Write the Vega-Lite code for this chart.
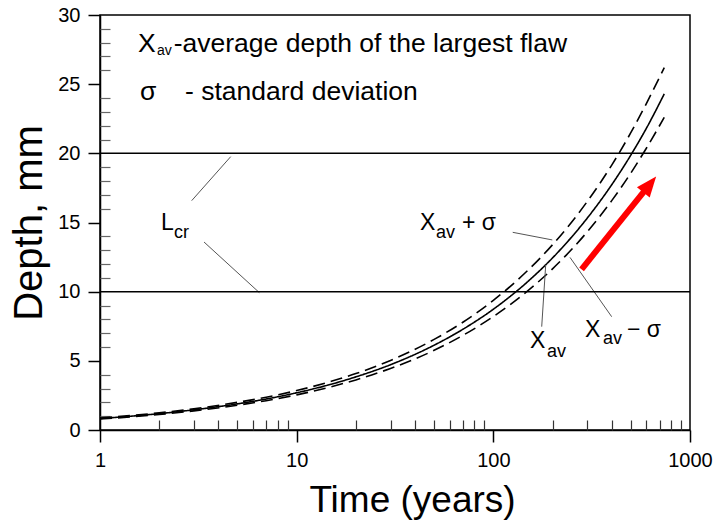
{
  "$schema": "https://vega.github.io/schema/vega-lite/v6.json",
  "width": 590,
  "height": 415,
  "autosize": {"type": "none"},
  "padding": {"left": 100, "top": 15, "right": 23, "bottom": 96},
  "background": "white",
  "config": {
    "view": {"stroke": "black", "strokeWidth": 1.5},
    "font": "Liberation Sans",
    "text": {"font": "Liberation Sans", "color": "black"}
  },
  "datasets": {
    "curves": [
      {"t": 1, "y": 0.87, "s": "upper"}, {"t": 1.5, "y": 1.07, "s": "upper"}, {"t": 2, "y": 1.24, "s": "upper"},
      {"t": 3, "y": 1.53, "s": "upper"}, {"t": 5, "y": 2.0, "s": "upper"}, {"t": 7, "y": 2.37, "s": "upper"},
      {"t": 10, "y": 2.85, "s": "upper"}, {"t": 15, "y": 3.52, "s": "upper"}, {"t": 20, "y": 4.08, "s": "upper"},
      {"t": 30, "y": 5.03, "s": "upper"}, {"t": 50, "y": 6.55, "s": "upper"}, {"t": 70, "y": 7.79, "s": "upper"},
      {"t": 100, "y": 9.37, "s": "upper"}, {"t": 150, "y": 11.55, "s": "upper"}, {"t": 200, "y": 13.39, "s": "upper"},
      {"t": 300, "y": 16.51, "s": "upper"}, {"t": 400, "y": 19.15, "s": "upper"}, {"t": 500, "y": 21.49, "s": "upper"},
      {"t": 600, "y": 23.6, "s": "upper"}, {"t": 740, "y": 26.2, "s": "upper"},
      {"t": 1, "y": 0.83, "s": "mean"}, {"t": 1.5, "y": 1.02, "s": "mean"}, {"t": 2, "y": 1.18, "s": "mean"},
      {"t": 3, "y": 1.46, "s": "mean"}, {"t": 5, "y": 1.89, "s": "mean"}, {"t": 7, "y": 2.24, "s": "mean"},
      {"t": 10, "y": 2.69, "s": "mean"}, {"t": 15, "y": 3.31, "s": "mean"}, {"t": 20, "y": 3.84, "s": "mean"},
      {"t": 30, "y": 4.72, "s": "mean"}, {"t": 50, "y": 6.13, "s": "mean"}, {"t": 70, "y": 7.28, "s": "mean"},
      {"t": 100, "y": 8.73, "s": "mean"}, {"t": 150, "y": 10.74, "s": "mean"}, {"t": 200, "y": 12.44, "s": "mean"},
      {"t": 300, "y": 15.31, "s": "mean"}, {"t": 400, "y": 17.73, "s": "mean"}, {"t": 500, "y": 19.87, "s": "mean"},
      {"t": 600, "y": 21.81, "s": "mean"}, {"t": 740, "y": 24.3, "s": "mean"},
      {"t": 1, "y": 0.79, "s": "lower"}, {"t": 1.5, "y": 0.97, "s": "lower"}, {"t": 2, "y": 1.12, "s": "lower"},
      {"t": 3, "y": 1.38, "s": "lower"}, {"t": 5, "y": 1.79, "s": "lower"}, {"t": 7, "y": 2.12, "s": "lower"},
      {"t": 10, "y": 2.54, "s": "lower"}, {"t": 15, "y": 3.13, "s": "lower"}, {"t": 20, "y": 3.62, "s": "lower"},
      {"t": 30, "y": 4.45, "s": "lower"}, {"t": 50, "y": 5.76, "s": "lower"}, {"t": 70, "y": 6.84, "s": "lower"},
      {"t": 100, "y": 8.2, "s": "lower"}, {"t": 150, "y": 10.07, "s": "lower"}, {"t": 200, "y": 11.65, "s": "lower"},
      {"t": 300, "y": 14.32, "s": "lower"}, {"t": 400, "y": 16.58, "s": "lower"}, {"t": 500, "y": 18.57, "s": "lower"},
      {"t": 600, "y": 20.37, "s": "lower"}, {"t": 740, "y": 22.6, "s": "lower"}
    ],
    "hlines": [{"y": 10}, {"y": 20}],
    "leaders": [
      {"t": 2.926, "y": 16.58, "t2": 4.62, "y2": 19.76},
      {"t": 3.38, "y": 13.59, "t2": 6.46, "y2": 9.93},
      {"t": 125.5, "y": 14.29, "t2": 199.4, "y2": 13.74},
      {"t": 176.2, "y": 7.47, "t2": 184.6, "y2": 11.93},
      {"t": 399.7, "y": 8.19, "t2": 245.3, "y2": 12.48}
    ],
    "arrow": [{"t": 281, "y": 11.62, "t2": 624, "y2": 17.75}],
    "labels": [
      {"t": 1.561, "y": 27.35, "text": "X", "kind": "big"},
      {"t": 2.37, "y": 27.35, "text": "-average depth of the largest flaw", "kind": "big"},
      {"t": 1.597, "y": 23.86, "text": "σ", "kind": "big"},
      {"t": 2.705, "y": 23.86, "text": "- standard deviation", "kind": "big"},
      {"t": 2.043, "y": 14.46, "text": "L", "kind": "main"},
      {"t": 42.4, "y": 14.46, "text": "X", "kind": "main"},
      {"t": 69.3, "y": 14.46, "text": "+ σ", "kind": "main"},
      {"t": 153.6, "y": 5.93, "text": "X", "kind": "main"},
      {"t": 292.5, "y": 6.72, "text": "X", "kind": "main"},
      {"t": 478, "y": 6.72, "text": "− σ", "kind": "main"},
      {"t": 2.378, "y": 13.88, "text": "cr", "kind": "sub"},
      {"t": 51.1, "y": 13.88, "text": "av", "kind": "sub"},
      {"t": 187.5, "y": 5.28, "text": "av", "kind": "sub"},
      {"t": 361, "y": 6.22, "text": "av", "kind": "sub"},
      {"t": 1.949, "y": 27.1, "text": "av", "kind": "subsmall"}
    ]
  },
  "resolve": {"axis": {"x": "independent", "y": "independent"}},
  "layer": [
    {
      "data": {"name": "curves"},
      "mark": {"type": "line", "interpolate": "monotone", "color": "black", "strokeWidth": 1.6},
      "encoding": {
        "x": {"field": "t", "type": "quantitative",
          "scale": {"type": "log", "domain": [1, 1000], "nice": false},
          "axis": {"orient": "bottom", "values": [1, 10, 100, 1000], "format": "d", "grid": false,
            "tickSize": 12, "tickWidth": 1.5, "tickColor": "black", "domainColor": "black", "domainWidth": 1.5,
            "labelFont": "Liberation Sans", "labelFontSize": 20, "labelColor": "black", "labelPadding": 8,
            "labelFlush": false, "labelOverlap": false,
            "title": "Time (years)", "titleFont": "Liberation Sans", "titleFontSize": 37, "titleFontWeight": "normal",
            "titleColor": "black", "titlePadding": 12, "titleX": 312}},
        "y": {"field": "y", "type": "quantitative",
          "scale": {"domain": [0, 30], "nice": false, "zero": false},
          "axis": {"orient": "left", "values": [0, 5, 10, 15, 20, 25, 30], "grid": false,
            "tickSize": 12, "tickWidth": 1.5, "tickColor": "black", "domainColor": "black", "domainWidth": 1.5,
            "labelFont": "Liberation Sans", "labelFontSize": 20, "labelColor": "black", "labelPadding": 8,
            "labelFlush": false,
            "title": "Depth, mm", "titleFont": "Liberation Sans", "titleFontSize": 40, "titleFontWeight": "normal",
            "titleColor": "black", "titlePadding": 8}},
        "detail": {"field": "s"},
        "strokeDash": {"field": "s", "type": "nominal",
          "scale": {"domain": ["upper", "mean", "lower"], "range": [[12, 6], [1, 0], [12, 6]]},
          "legend": null}
      }
    },
    {
      "data": {"name": "leaders"},
      "mark": {"type": "rule", "color": "#555555", "strokeWidth": 1},
      "encoding": {
        "x": {"field": "t", "type": "quantitative",
          "axis": {"orient": "bottom", "values": [2, 3, 4, 5, 6, 7, 8, 9, 20, 30, 40, 50, 60, 70, 80, 90, 200, 300, 400, 500, 600, 700, 800, 900],
            "tickSize": -10, "tickWidth": 1.2, "tickColor": "#333333", "labels": false, "domain": false, "grid": false, "title": null}},
        "y": {"field": "y", "type": "quantitative",
          "axis": {"orient": "left", "values": [1, 2, 3, 4, 6, 7, 8, 9, 11, 12, 13, 14, 16, 17, 18, 19, 21, 22, 23, 24, 26, 27, 28, 29],
            "tickSize": -10, "tickWidth": 1.2, "tickColor": "#666666", "labels": false, "domain": false, "grid": false, "title": null}},
        "x2": {"field": "t2"},
        "y2": {"field": "y2"}
      }
    },
    {
      "data": {"name": "hlines"},
      "mark": {"type": "rule", "color": "black", "strokeWidth": 1.5},
      "encoding": {
        "y": {"field": "y", "type": "quantitative", "axis": null}
      }
    },
    {
      "data": {"name": "arrow"},
      "mark": {"type": "rule", "color": "#ff0000", "strokeWidth": 6, "strokeCap": "butt"},
      "encoding": {
        "x": {"field": "t", "type": "quantitative", "axis": null},
        "y": {"field": "y", "type": "quantitative", "axis": null},
        "x2": {"field": "t2"},
        "y2": {"field": "y2"}
      }
    },
    {
      "data": {"name": "arrow"},
      "mark": {"type": "point", "shape": "M0,-1L0.8,1L-0.8,1Z", "size": 420, "angle": 38.7, "filled": true, "color": "#ff0000", "opacity": 1, "strokeWidth": 0},
      "encoding": {
        "x": {"field": "t2", "type": "quantitative", "axis": null},
        "y": {"field": "y2", "type": "quantitative", "axis": null}
      }
    },
    {
      "data": {"name": "labels"},
      "transform": [{"filter": "datum.kind === 'big'"}],
      "mark": {"type": "text", "align": "left", "baseline": "alphabetic", "fontSize": 26.5, "font": "Liberation Sans", "color": "black"},
      "encoding": {
        "x": {"field": "t", "type": "quantitative", "axis": null},
        "y": {"field": "y", "type": "quantitative", "axis": null},
        "text": {"field": "text"}
      }
    },
    {
      "data": {"name": "labels"},
      "transform": [{"filter": "datum.kind === 'main'"}],
      "mark": {"type": "text", "align": "left", "baseline": "alphabetic", "fontSize": 23, "font": "Liberation Sans", "color": "black"},
      "encoding": {
        "x": {"field": "t", "type": "quantitative", "axis": null},
        "y": {"field": "y", "type": "quantitative", "axis": null},
        "text": {"field": "text"}
      }
    },
    {
      "data": {"name": "labels"},
      "transform": [{"filter": "datum.kind === 'sub'"}],
      "mark": {"type": "text", "align": "left", "baseline": "alphabetic", "fontSize": 18, "font": "Liberation Sans", "color": "black"},
      "encoding": {
        "x": {"field": "t", "type": "quantitative", "axis": null},
        "y": {"field": "y", "type": "quantitative", "axis": null},
        "text": {"field": "text"}
      }
    },
    {
      "data": {"name": "labels"},
      "transform": [{"filter": "datum.kind === 'subsmall'"}],
      "mark": {"type": "text", "align": "left", "baseline": "alphabetic", "fontSize": 14, "font": "Liberation Sans", "color": "black"},
      "encoding": {
        "x": {"field": "t", "type": "quantitative", "axis": null},
        "y": {"field": "y", "type": "quantitative", "axis": null},
        "text": {"field": "text"}
      }
    }
  ]
}
